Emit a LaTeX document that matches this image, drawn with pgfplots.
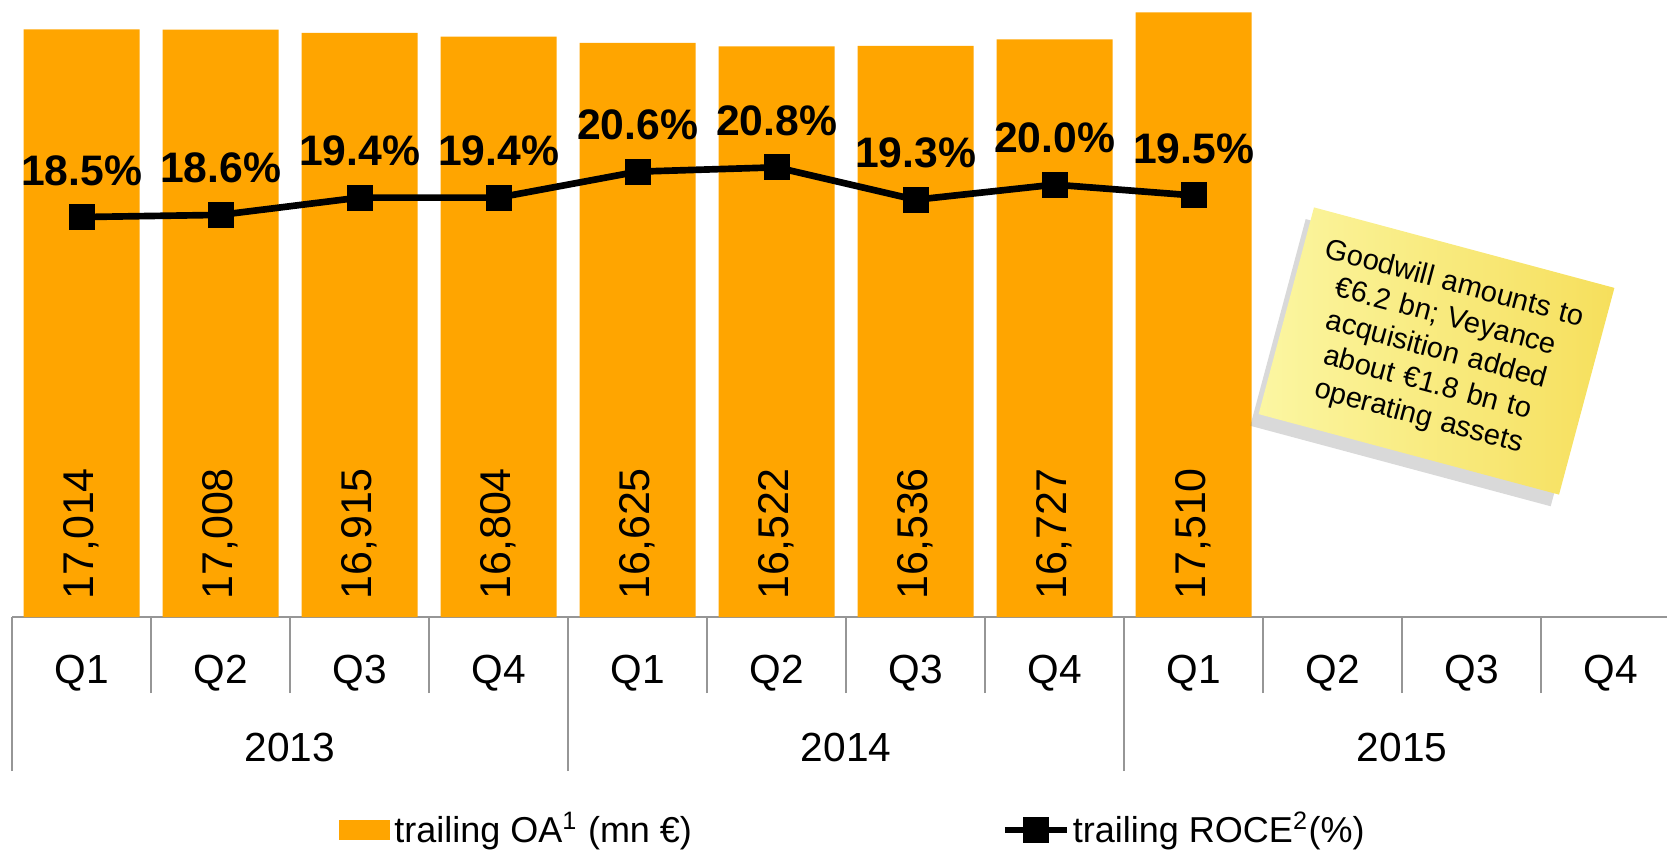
\documentclass[border=0pt]{standalone}
\usepackage{pgfplots}
\pgfplotsset{compat=1.18}
\usepackage{pgfplotstable}
\usepackage{fontspec}
\setmainfont{Liberation Sans}
\usetikzlibrary{shadows}
\definecolor{oaorange}{RGB}{255,165,0}
\definecolor{sepgray}{RGB}{150,150,150}
\definecolor{noteA}{RGB}{251,246,162}
\definecolor{noteB}{RGB}{246,223,92}

\pgfplotstableread{
x oa roce
0 17014 18.5
1 17008 18.6
2 16915 19.4
3 16804 19.4
4 16625 20.6
5 16522 20.8
6 16536 19.3
7 16727 20.0
8 17510 19.5
}\datatable

\begin{document}
\begin{tikzpicture}
\path[use as bounding box] (0,0) rectangle (500.1pt,255pt);
\begin{axis}[
  at={(3.6pt,69.9pt)}, anchor=south west,
  scale only axis, width=500.4pt, height=185.1pt,
  xmin=-0.5, xmax=11.5, ymin=0, ymax=17868,
  axis y line=none,
  axis x line*=bottom,
  x axis line style={-, draw=sepgray, line width=0.6pt},
  xtick={0,1,2,3,4,5,6,7,8,9,10,11},
  xticklabels={Q1,Q2,Q3,Q4,Q1,Q2,Q3,Q4,Q1,Q2,Q3,Q4},
  xticklabel style={anchor=base, yshift=-19.8pt, font=\fontsize{12.2}{14}\selectfont, text=black},
  major tick length=0pt,
  minor xtick={-0.5,0.5,1.5,2.5,3.5,4.5,5.5,6.5,7.5,8.5,9.5,10.5,11.5},
  minor tick length=22.8pt,
  tick align=outside,
  tick style={draw=sepgray, line width=0.6pt},
  extra x ticks={-0.5,3.5,7.5,11.5},
  extra x tick labels={},
  extra x tick style={major tick length=46.2pt, tick style={draw=sepgray, line width=0.6pt}},
  clip=false,
  legend style={at={(0.1954,-0.345)}, anchor=west, draw=none, fill=none, inner sep=0pt,
    font=\fontsize{10.8}{13}\selectfont,
    nodes={inner sep=0.8pt},
    /tikz/every odd column/.append style={column sep=0.6pt}},
]
\addplot[ybar, bar width=34.8pt, fill=oaorange, draw=none,
  legend image code/.code={\fill[oaorange] (0pt,-3pt) rectangle (15.3pt,3pt);}]
  table[x=x, y=oa] {\datatable};
\addlegendentry{trailing OA\textsuperscript{1} (mn €)}
\addplot[draw=none, forget plot, mark=none, point meta=explicit,
  nodes near coords={\pgfmathprintnumber[assume math mode=true, fixed, precision=0, 1000 sep={,}]{\pgfplotspointmeta}},
  every node near coord/.append style={yshift=5pt, rotate=90, anchor=west, inner sep=0pt,
    font=\fontsize{12.9}{15}\selectfont, text=black}]
  table[x=x, y expr=0, meta=oa] {\datatable};
\node[anchor=base, yshift=-43.2pt, font=\fontsize{12.2}{14}\selectfont] at (axis cs:1.5,0) {2013};
\node[anchor=base, yshift=-43.2pt, font=\fontsize{12.2}{14}\selectfont] at (axis cs:5.5,0) {2014};
\node[anchor=base, yshift=-43.2pt, font=\fontsize{12.2}{14}\selectfont] at (axis cs:9.5,0) {2015};
\end{axis}
\begin{axis}[
  at={(3.6pt,69.9pt)}, anchor=south west,
  scale only axis, width=500.4pt, height=185.1pt,
  xmin=-0.5, xmax=11.5, ymin=0, ymax=28.54,
  hide axis, clip=false,
  legend style={at={(0.5929,-0.345)}, anchor=west, draw=none, fill=none, inner sep=0pt,
    font=\fontsize{10.8}{13}\selectfont,
    nodes={inner sep=0.8pt},
    /tikz/every odd column/.append style={column sep=0pt}},
]
\addplot[black, line width=2pt, mark=square*, mark size=3.6pt,
  mark options={solid, line width=0.6pt},
  nodes near coords={\pgfmathprintnumber[assume math mode=true, fixed, fixed zerofill, precision=1]{\pgfplotspointmeta}\%},
  every node near coord/.append style={anchor=base, yshift=9.6pt, inner sep=0pt,
    font=\fontsize{12.8}{15}\selectfont\bfseries, text=black},
  legend image code/.code={\draw[black, line width=2pt] (0pt,0pt) -- (18.6pt,0pt);
    \fill[black] (6.3pt,-3pt) rectangle (12.3pt,3pt);}]
  table[x=x, y=roce] {\datatable};
\addlegendentry{trailing ROCE\textsuperscript{2}(\%)}
\end{axis}
\node[rotate=-15, left color=noteA, right color=noteB,
  drop shadow={shadow xshift=-2.5pt, shadow yshift=-3.5pt, opacity=0.3},
  minimum width=93.3pt, minimum height=64.2pt, text width=88pt, inner sep=2pt,
  align=center, font=\fontsize{8.7}{10.3}\selectfont]
  at (430.95pt,149.7pt)
  {Goodwill amounts to\\ €6.2 bn; Veyance\\ acquisition added\\ about €1.8 bn to\\ operating assets};
\end{tikzpicture}
\end{document}
